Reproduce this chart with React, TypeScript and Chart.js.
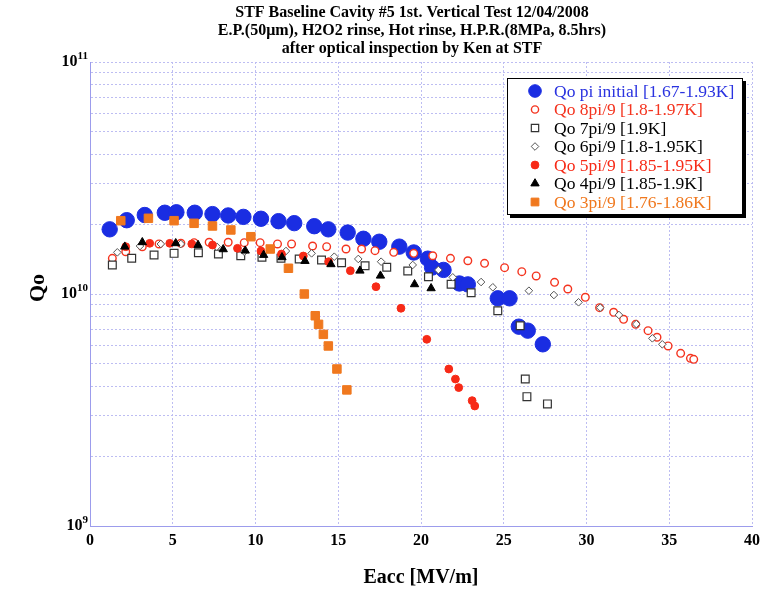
import React, { useEffect, useRef } from 'react';
import { Chart, registerables } from 'chart.js';
import { drawPoint } from 'chart.js/helpers';

Chart.register(...registerables);

const titleLines = [
  'STF Baseline Cavity #5 1st. Vertical Test 12/04/2008',
  'E.P.(50\u03bcm), H2O2 rinse, Hot rinse, H.P.R.(8MPa, 8.5hrs)',
  'after optical inspection by Ken at STF',
];
const xAxisTitle = 'Eacc [MV/m]';
const yAxisTitle = 'Qo';
const xTickLabels = ['0', '5', '10', '15', '20', '25', '30', '35', '40'];
const yTickExponents = [9, 10, 11];
const yGridMantissas = [1, 2, 3, 4, 5, 6, 7, 8, 9];

// Qo pi initial
const eaccPi = [1.19, 2.22, 3.31, 4.52, 5.22, 6.33, 7.40, 8.35, 9.27, 10.33, 11.39, 12.34, 13.55, 14.4, 15.57, 16.52, 17.48, 18.69, 19.56, 20.41, 20.67, 21.36, 22.32, 22.83, 24.64, 25.35, 25.91, 26.45, 27.36];
const qoPi = [1.90e10, 2.08e10, 2.19e10, 2.24e10, 2.25e10, 2.24e10, 2.21e10, 2.18e10, 2.15e10, 2.11e10, 2.06e10, 2.02e10, 1.96e10, 1.90e10, 1.84e10, 1.73e10, 1.68e10, 1.60e10, 1.51e10, 1.42e10, 1.30e10, 1.27e10, 1.11e10, 1.10e10, 9.58e9, 9.58e9, 7.23e9, 6.95e9, 6.07e9];

// Qo 8pi/9
const eacc8 = [1.35, 2.16, 3.16, 4.17, 5.49, 6.29, 7.20, 8.35, 9.32, 10.28, 11.33, 12.18, 13.45, 14.30, 15.47, 16.41, 17.22, 18.35, 19.56, 20.71, 21.78, 22.83, 23.84, 25.05, 26.09, 26.96, 28.07, 28.87, 29.93, 30.79, 31.64, 32.24, 32.97, 33.72, 34.26, 34.93, 35.69, 36.28, 36.48];
const qo8 = [1.425e10, 1.521e10, 1.599e10, 1.643e10, 1.654e10, 1.664e10, 1.671e10, 1.671e10, 1.664e10, 1.664e10, 1.643e10, 1.643e10, 1.610e10, 1.599e10, 1.563e10, 1.563e10, 1.537e10, 1.512e10, 1.497e10, 1.462e10, 1.425e10, 1.391e10, 1.356e10, 1.299e10, 1.248e10, 1.196e10, 1.123e10, 1.051e10, 9.68e9, 8.73e9, 8.34e9, 7.78e9, 7.40e9, 6.95e9, 6.51e9, 5.97e9, 5.55e9, 5.28e9, 5.23e9];

// Qo 7pi/9
const eacc7 = [1.35, 2.52, 3.87, 5.08, 6.55, 7.76, 9.11, 10.39, 11.54, 12.64, 13.99, 15.20, 16.62, 17.93, 19.20, 20.45, 21.82, 23.03, 24.64, 25.99, 26.30, 26.40, 27.64];
const qo7 = [1.334e10, 1.425e10, 1.473e10, 1.497e10, 1.507e10, 1.487e10, 1.462e10, 1.439e10, 1.425e10, 1.416e10, 1.402e10, 1.364e10, 1.324e10, 1.304e10, 1.256e10, 1.187e10, 1.101e10, 1.013e10, 8.47e9, 7.30e9, 4.30e9, 3.61e9, 3.36e9];

// Qo 6pi/9
const eacc6 = [1.65, 3.02, 4.28, 5.49, 7.66, 9.32, 11.84, 13.39, 14.76, 16.21, 17.59, 19.50, 21.05, 21.92, 23.63, 24.34, 26.52, 28.03, 29.52, 30.83, 31.96, 33.01, 33.98, 34.58];
const qo6 = [1.512e10, 1.610e10, 1.643e10, 1.643e10, 1.599e10, 1.521e10, 1.532e10, 1.497e10, 1.448e10, 1.416e10, 1.378e10, 1.334e10, 1.269e10, 1.180e10, 1.126e10, 1.069e10, 1.033e10, 9.90e9, 9.21e9, 8.73e9, 8.12e9, 7.42e9, 6.44e9, 6.07e9];

// Qo 5pi/9
const eacc5 = [2.16, 3.61, 4.82, 6.15, 7.40, 8.91, 10.33, 11.57, 12.89, 14.42, 15.73, 17.28, 18.79, 20.35, 21.68, 22.08, 22.28, 23.09, 23.25];
const qo5 = [1.599e10, 1.654e10, 1.654e10, 1.643e10, 1.626e10, 1.574e10, 1.532e10, 1.487e10, 1.458e10, 1.378e10, 1.260e10, 1.075e10, 8.68e9, 6.38e9, 4.75e9, 4.30e9, 3.95e9, 3.47e9, 3.29e9];

// Qo 4pi/9
const eacc4 = [2.10, 3.16, 5.18, 6.53, 8.05, 9.38, 10.49, 11.60, 12.99, 14.56, 16.31, 17.55, 19.61, 20.61];
const qo4 = [1.599e10, 1.671e10, 1.654e10, 1.626e10, 1.558e10, 1.537e10, 1.473e10, 1.439e10, 1.387e10, 1.343e10, 1.260e10, 1.199e10, 1.101e10, 1.058e10];

// Qo 3pi/9
const eacc3 = [1.86, 3.53, 5.08, 6.29, 7.40, 8.51, 9.72, 10.89, 11.99, 12.95, 13.61, 13.81, 14.10, 14.40, 14.92, 15.52];
const qo3 = [2.070e10, 2.120e10, 2.070e10, 2.017e10, 1.964e10, 1.888e10, 1.766e10, 1.563e10, 1.291e10, 1.000e10, 8.06e9, 7.40e9, 6.70e9, 5.97e9, 4.75e9, 3.86e9];

const seriesLabels = [
  'Qo pi initial [1.67-1.93K]',
  'Qo 8pi/9 [1.8-1.97K]',
  'Qo 7pi/9 [1.9K]',
  'Qo 6pi/9 [1.8-1.95K]',
  'Qo 5pi/9 [1.85-1.95K]',
  'Qo 4pi/9 [1.85-1.9K]',
  'Qo 3pi/9 [1.76-1.86K]',
];

const SERIF = '"Liberation Serif", "Times New Roman", serif';

const zip = (xs: number[], ys: number[]) => xs.map((x, i) => ({ x, y: ys[i] }));

const styles = [
  { pointStyle: 'circle', radius: 7.7, fill: '#1a2de2', stroke: '#1a2de2', bw: 1, text: '#2a33e0', legendRadius: 6.3 },
  { pointStyle: 'circle', radius: 3.8, fill: '#ffffff', stroke: '#f4341f', bw: 1.4, text: '#f4341f', legendRadius: 3.6 },
  { pointStyle: 'rect', radius: 5.5, fill: '#ffffff', stroke: '#333333', bw: 1.2, text: '#000000', legendRadius: 5.2 },
  { pointStyle: 'rectRot', radius: 3.8, fill: '#ffffff', stroke: '#555555', bw: 1, text: '#000000', legendRadius: 3.8 },
  { pointStyle: 'circle', radius: 3.9, fill: '#f72a17', stroke: '#f72a17', bw: 1, text: '#f72a17', legendRadius: 3.9 },
  { pointStyle: 'triangle', radius: 4.8, fill: '#000000', stroke: '#000000', bw: 1, text: '#000000', legendRadius: 4.8 },
  { pointStyle: 'rect', radius: 6, fill: '#f0781e', stroke: '#f0781e', bw: 1, text: '#f0781e', legendRadius: 5.5 },
];

const seriesData = [
  zip(eaccPi, qoPi),
  zip(eacc8, qo8),
  zip(eacc7, qo7),
  zip(eacc6, qo6),
  zip(eacc5, qo5),
  zip(eacc4, qo4),
  zip(eacc3, qo3),
];

const overlayPlugin = {
  id: 'overlay',
  afterDraw(chart: any) {
    const ctx = chart.ctx as CanvasRenderingContext2D;
    const area = chart.chartArea;
    ctx.save();
    ctx.fillStyle = '#000';
    ctx.textAlign = 'center';
    ctx.textBaseline = 'middle';
    ctx.font = `bold 16px ${SERIF}`;
    titleLines.forEach((t, i) => ctx.fillText(t, 412, 13 + i * 18));

    // axis titles
    ctx.font = `bold 20px ${SERIF}`;
    ctx.fillText(xAxisTitle, (area.left + area.right) / 2, 578);
    ctx.save();
    ctx.translate(38, 288);
    ctx.rotate(-Math.PI / 2);
    ctx.font = `bold 22px ${SERIF}`;
    ctx.fillText(yAxisTitle, 0, 0);
    ctx.restore();

    // y tick labels with superscripts
    const ys = chart.scales.y;
    yTickExponents.forEach((e) => {
      const py = ys.getPixelForValue(Math.pow(10, e));
      const right = area.left - 2;
      ctx.textAlign = 'right';
      ctx.font = `bold 11px ${SERIF}`;
      const sup = String(e);
      const supW = ctx.measureText(sup).width;
      ctx.fillText(sup, right, py - 6);
      ctx.font = `bold 16px ${SERIF}`;
      ctx.fillText('10', right - supW, py);
    });

    // legend
    const bx = 507, by = 78, bw = 236, bh = 137;
    ctx.fillStyle = '#000';
    ctx.fillRect(bx + 3, by + 3, bw, bh);
    ctx.fillStyle = '#fff';
    ctx.fillRect(bx, by, bw, bh);
    ctx.strokeStyle = '#000';
    ctx.lineWidth = 1;
    ctx.strokeRect(bx + 0.5, by + 0.5, bw - 1, bh - 1);
    ctx.font = `17.5px ${SERIF}`;
    ctx.textAlign = 'left';
    seriesLabels.forEach((lab, i) => {
      const s = styles[i];
      const cy = 91 + i * 18.5;
      ctx.fillStyle = s.fill;
      ctx.strokeStyle = s.stroke;
      ctx.lineWidth = s.bw;
      drawPoint(ctx, { pointStyle: s.pointStyle as any, radius: s.legendRadius, borderWidth: s.bw, rotation: 0 }, 535, cy);
      ctx.fillStyle = s.text;
      ctx.fillText(lab, 554, cy + 1);
    });
    ctx.restore();
  },
};

export default function App() {
  const canvasRef = useRef<HTMLCanvasElement | null>(null);

  useEffect(() => {
    if (!canvasRef.current) return;
    const gridColor = '#bdbdf2';
    const chart = new Chart(canvasRef.current, {
      type: 'scatter',
      data: {
        datasets: seriesData.map((d, i) => ({
          label: seriesLabels[i],
          data: d,
          showLine: false,
          pointStyle: styles[i].pointStyle as any,
          pointRadius: styles[i].radius,
          pointHoverRadius: styles[i].radius,
          backgroundColor: styles[i].fill,
          borderColor: styles[i].stroke,
          pointBorderWidth: styles[i].bw,
          borderWidth: styles[i].bw,
          order: seriesLabels.length - i,
        })),
      },
      options: {
        responsive: true,
        maintainAspectRatio: false,
        animation: false,
        events: [],
        layout: { padding: { top: 62, right: 15, left: 0, bottom: 0 } },
        plugins: {
          legend: { display: false },
          title: { display: false },
          tooltip: { enabled: false },
        },
        scales: {
          x: {
            type: 'linear',
            min: 0,
            max: 40,
            afterBuildTicks: (scale: any) => {
              scale.ticks = xTickLabels.map((t) => ({ value: Number(t) }));
            },
            ticks: {
              color: '#000',
              font: { family: SERIF, size: 16, weight: 'bold' },
              padding: 5,
              maxRotation: 0,
              autoSkip: false,
              callback: (v: any) => String(v),
            },
            grid: { color: gridColor, lineWidth: 1, drawTicks: false },
            border: { display: true, color: '#9c9cec', width: 1, dash: [2, 2] },
            afterFit: (scale: any) => {
              scale.height = 64;
              scale.paddingLeft = 0;
              scale.paddingRight = 0;
            },
          },
          y: {
            type: 'logarithmic',
            min: 1e9,
            max: 1e11,
            afterBuildTicks: (scale: any) => {
              const ticks: any[] = [];
              [9, 10].forEach((e) => yGridMantissas.forEach((m) => ticks.push({ value: m * Math.pow(10, e) })));
              ticks.push({ value: 1e11 });
              scale.ticks = ticks;
            },
            ticks: { display: false },
            grid: { color: gridColor, lineWidth: 1, drawTicks: false },
            border: { display: true, color: '#9c9cec', width: 1, dash: [2, 2] },
            afterFit: (scale: any) => {
              scale.width = 90;
              scale.paddingTop = 0;
              scale.paddingBottom = 0;
            },
          },
        },
      } as any,
      plugins: [overlayPlugin],
    });
    return () => chart.destroy();
  }, []);

  return (
    <div style={{ position: 'absolute', left: 0, top: 0, width: 767, height: 590, background: '#fff' }}>
      <canvas ref={canvasRef} />
    </div>
  );
}
